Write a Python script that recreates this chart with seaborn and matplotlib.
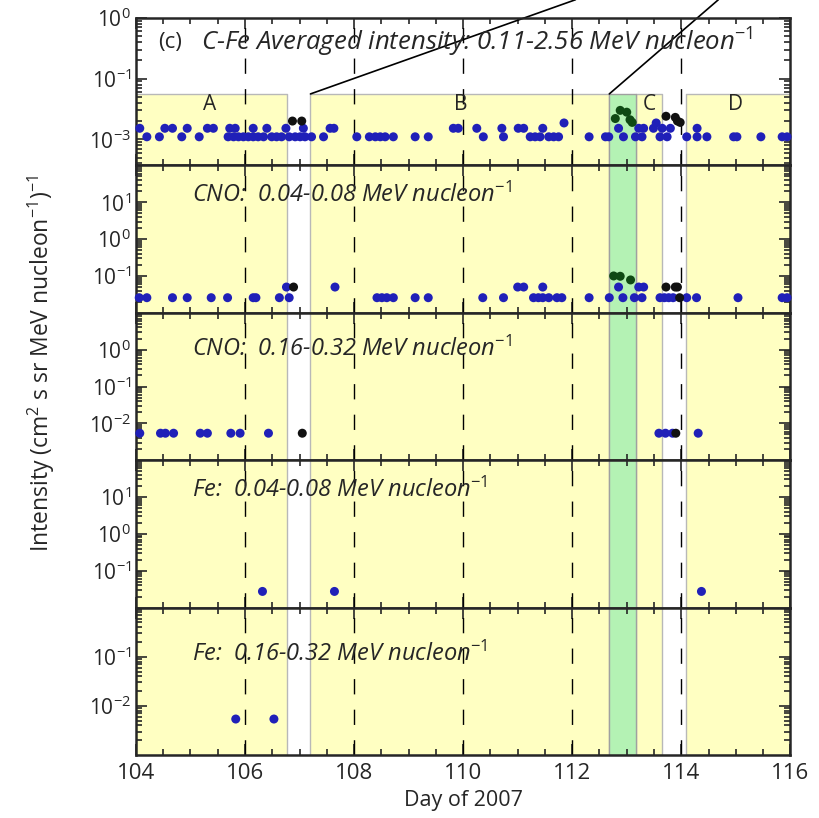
import numpy as np
import pandas as pd
import matplotlib
matplotlib.use("Agg")
import matplotlib.pyplot as plt
import seaborn as sns
from matplotlib.ticker import FixedLocator, LogLocator, NullFormatter, MultipleLocator

sns.set_style("ticks")
plt.rcParams['font.family'] = ['Open Sans', 'DejaVu Sans']
plt.rcParams['mathtext.fontset'] = 'custom'
plt.rcParams['mathtext.rm'] = 'Open Sans'
plt.rcParams['mathtext.it'] = 'Open Sans:italic'

# ---- data ----
# panel 1: C-Fe averaged intensity
p1_blue_low = [104.20, 104.43, 104.84, 105.16, 105.69, 105.79, 105.88, 105.97, 106.06, 106.15,
               106.24, 106.34, 106.49, 106.58, 106.67, 106.81, 106.92, 107.01, 107.10, 107.22,
               107.44, 108.05, 108.28, 108.39, 108.48, 108.57, 108.72, 109.12, 109.36, 110.37,
               110.74, 111.23, 111.32, 111.41, 111.57, 111.66, 111.75, 112.31, 112.61, 112.67,
               112.94, 113.16, 113.28, 113.61, 113.74, 114.10, 114.29, 114.47, 114.96, 115.02,
               115.46, 115.85, 115.94]
p1_blue_high = [104.07, 104.53, 104.67, 104.94, 105.31, 105.42, 105.72, 105.82, 106.15, 106.40,
                106.75, 107.07, 107.56, 107.63, 109.82, 109.91, 110.25, 110.71, 111.01, 111.11,
                111.46, 112.85, 113.22, 113.31, 113.49, 113.65, 113.80, 114.29]
p1_blue_top = [111.85, 113.54]
p1_black_day = [106.87, 107.04, 113.72, 113.89, 113.93, 113.98]
p1_black_val = [0.020, 0.020, 0.024, 0.023, 0.020, 0.019]
p1_green_day = [112.79, 112.88, 113.00, 113.06, 113.10]
p1_green_val = [0.022, 0.030, 0.028, 0.021, 0.019]

# panel 2: CNO 0.04-0.08
p2_blue_low = [104.06, 104.20, 104.67, 104.94, 105.38, 105.68, 106.15, 106.20, 106.63, 106.81,
               108.42, 108.51, 108.60, 108.72, 109.12, 109.36, 110.36, 110.74, 111.29, 111.38,
               111.46, 111.57, 111.72, 111.81, 112.31, 112.68, 112.93, 113.14, 113.28, 113.61,
               113.69, 113.77, 113.85, 114.10, 114.28, 115.04, 115.85, 115.94]
p2_blue_high = [106.76, 107.65, 111.00, 111.11, 111.46, 112.85, 113.22, 113.31]
p2_black_day = [113.97, 106.89, 113.72, 113.89, 113.93]
p2_black_val = [0.0257, 0.050, 0.050, 0.050, 0.050]
p2_green_day = [112.76, 112.88, 113.07]
p2_green_val = [0.100, 0.098, 0.078]

# panel 3: CNO 0.16-0.32
p3_blue_day = [104.07, 104.45, 104.54, 104.69, 105.18, 105.31, 105.74, 105.91, 106.43,
               113.59, 113.71, 113.84, 114.31]
p3_black_day = [107.05, 113.90]

# panel 4: Fe 0.04-0.08
p4_blue_day = [106.32, 107.64, 114.37]
# panel 5: Fe 0.16-0.32
p5_blue_day = [105.83, 106.53]

low1, high1, top1 = 0.011, 0.0152, 0.0186
low2, high2 = 0.0257, 0.050
val3, val4, val5 = 0.0054, 0.0275, 0.0054

yellow_spans = [(103.9, 106.77), (107.19, 112.68), (113.17, 113.65), (114.09, 116.1)]
green_span = (112.68, 113.17)
region_letters = ['A', 'B', 'C', 'D']
letter_days = [105.36, 109.96, 113.41, 115.0]
dashed_days = [106, 108, 110, 112, 114]

panel_titles = ["C-Fe Averaged intensity: 0.11-2.56 MeV nucleon$^{-1}$",
                "CNO:  0.04-0.08 MeV nucleon$^{-1}$",
                "CNO:  0.16-0.32 MeV nucleon$^{-1}$",
                "Fe:  0.04-0.08 MeV nucleon$^{-1}$",
                "Fe:  0.16-0.32 MeV nucleon$^{-1}$"]
ylims = [(10 ** -2.43, 1), (1e-2, 1e2), (1e-3, 1e1), (1e-2, 1e2), (1e-3, 1)]
ytick_vals = [[1, 0.1, 0.01], [10, 1, 0.1], [1, 0.1, 0.01], [10, 1, 0.1], [0.1, 0.01]]
ytick_labels = [['$10^{0}$', '$10^{-1}$', '$10^{-3}$'],
                ['$10^{1}$', '$10^{0}$', '$10^{-1}$'],
                ['$10^{0}$', '$10^{-1}$', '$10^{-2}$'],
                ['$10^{1}$', '$10^{0}$', '$10^{-1}$'],
                ['$10^{-1}$', '$10^{-2}$']]
title_vals = [0.40, 15, 1.0, 15, 0.11]


def frame(day, val, kind):
    return pd.DataFrame({'day': day, 'val': val, 'kind': kind})


panels = [
    pd.concat([frame(p1_blue_low, low1, 'blue'), frame(p1_blue_high, high1, 'blue'),
               frame(p1_blue_top, top1, 'blue'), frame(p1_black_day, p1_black_val, 'black'),
               frame(p1_green_day, p1_green_val, 'green')]),
    pd.concat([frame(p2_blue_low, low2, 'blue'), frame(p2_blue_high, high2, 'blue'),
               frame(p2_black_day, p2_black_val, 'black'),
               frame(p2_green_day, p2_green_val, 'green')]),
    pd.concat([frame(p3_blue_day, val3, 'blue'), frame(p3_black_day, val3, 'black')]),
    frame(p4_blue_day, val4, 'blue'),
    frame(p5_blue_day, val5, 'blue'),
]
palette = {'blue': '#2020b8', 'black': '#111111', 'green': '#0f4a14'}

fig, axes = plt.subplots(5, 1, figsize=(8.19, 8.18), dpi=100, sharex=True)
plt.subplots_adjust(left=0.166, right=0.965, top=0.978, bottom=0.077, hspace=0)

for i, ax in enumerate(axes):
    ax.set_yscale('log')
    ax.set_ylim(*ylims[i])
    ax.set_xlim(104, 116)
    # shading
    if i == 0:
        shade_top = 0.056
        lo = ylims[0][0]
        for x0, x1 in yellow_spans:
            ax.fill_between([x0, x1], lo, shade_top, facecolor='#ffffc2',
                            edgecolor='#b8b8b8', linewidth=1, zorder=0)
        ax.fill_between(list(green_span), lo, shade_top, facecolor='#b4f2b4',
                        edgecolor='#a0a0a0', linewidth=1, zorder=0)
        for letter, d in zip(region_letters, letter_days):
            ax.text(d, 0.037, letter, ha='center', va='center', fontsize=15)
        ax.text(104.4, 0.40, "(c)", ha='left', va='center', fontsize=16)
        ax.text(105.2, title_vals[0], panel_titles[0], ha='left', va='center',
                fontsize=18.5, style='italic')
        # connector lines to the panel above
        ax.plot([107.2, 112.06], [shade_top, 2.0], color='black', lw=1.2, clip_on=False)
        ax.plot([112.68, 114.68], [shade_top, 2.0], color='black', lw=1.2, clip_on=False)
    else:
        for x0, x1 in yellow_spans:
            ax.axvspan(x0, x1, facecolor='#ffffc2', edgecolor='#b8b8b8', linewidth=1, zorder=0)
        ax.axvspan(*green_span, facecolor='#b4f2b4', edgecolor='#a0a0a0', linewidth=1, zorder=0)
        ax.text(105.03, title_vals[i], panel_titles[i], ha='left', va='center',
                fontsize=17, style='italic')
    for d in dashed_days:
        ax.axvline(d, color='black', lw=1, dashes=(11, 11), zorder=1)

    sns.scatterplot(data=panels[i], x='day', y='val', hue='kind', palette=palette,
                    s=42, linewidth=0, legend=False, ax=ax, zorder=3, clip_on=False)

    ax.yaxis.set_major_locator(FixedLocator(ytick_vals[i]))
    ax.set_yticklabels(ytick_labels[i])
    ax.yaxis.set_minor_locator(LogLocator(base=10, subs=np.arange(2, 10), numticks=20))
    ax.yaxis.set_minor_formatter(NullFormatter())
    ax.xaxis.set_major_locator(MultipleLocator(2))
    ax.xaxis.set_minor_locator(MultipleLocator(0.5))
    ax.tick_params(which='both', direction='in', top=True, right=True, labelsize=15, width=1.2)
    ax.tick_params(which='major', length=8)
    ax.tick_params(which='minor', length=4)
    for sp in ax.spines.values():
        sp.set_linewidth(1.8)
    ax.set_ylabel('')
    ax.set_xlabel('')

axes[-1].set_xticks([104, 106, 108, 110, 112, 114, 116])
axes[-1].tick_params(axis='x', labelsize=16, pad=6)
axes[-1].set_xlabel('Day of 2007', fontsize=15.5)
fig.text(0.05, 0.555, 'Intensity (cm$^{2}$ s sr MeV nucleon$^{-1}$)$^{-1}$',
         rotation=90, ha='center', va='center', fontsize=16.5)

fig.savefig('out.png', dpi=100)
